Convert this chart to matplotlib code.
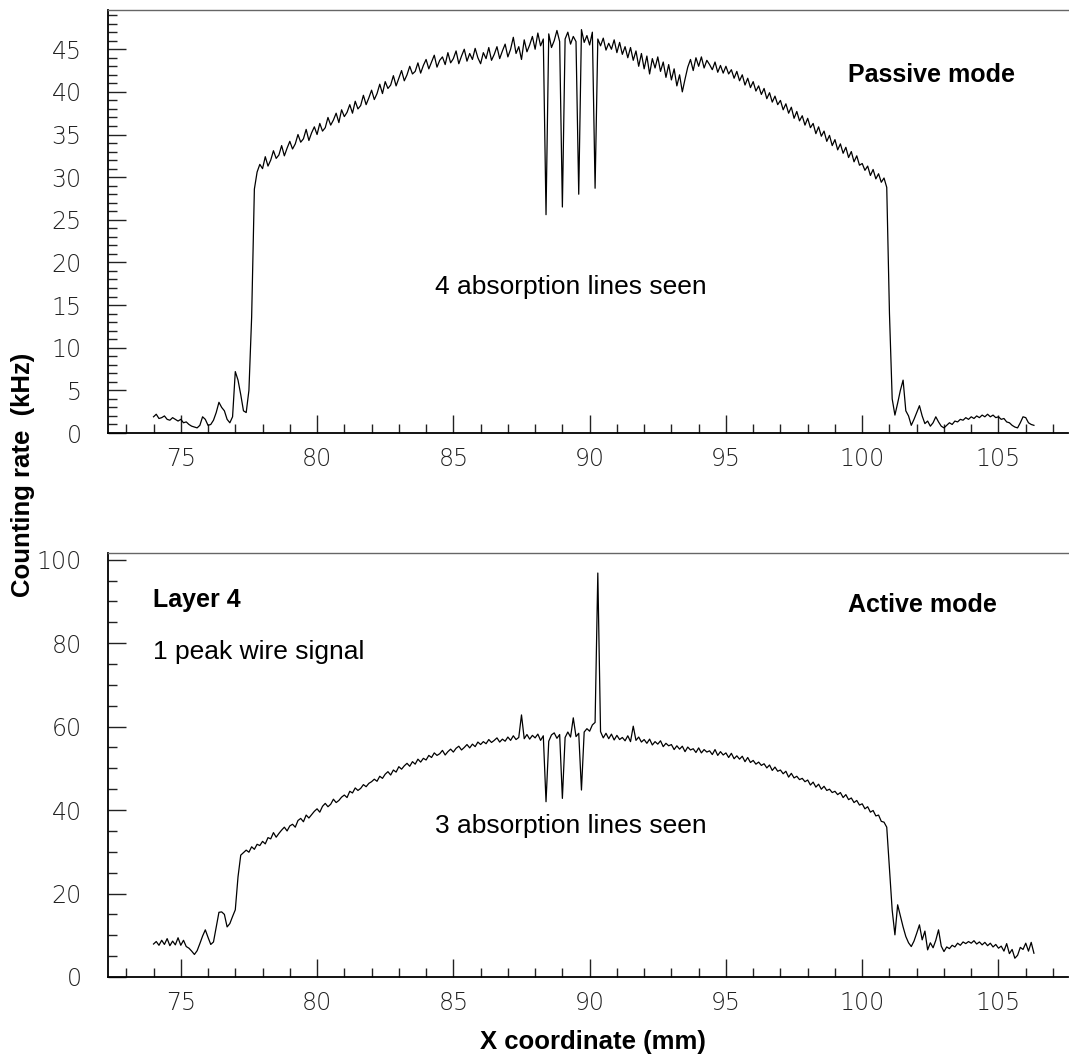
"""
Wire chamber scan: counting rate vs X coordinate, passive and active mode.
Recreated as a two-panel plot in the old PAW / ROOT look.
"""

import numpy as np
import matplotlib
matplotlib.use("Agg")
import matplotlib.pyplot as plt
import matplotlib.ticker as mticker
from matplotlib.font_manager import FontProperties

# ── Data (kHz, one value per 0.1 mm bin, starting at 74.0 mm) ───────────────
X_START = 74.0
X_STEP = 0.1

passive_rate = [
    1.9, 2.2, 1.7, 1.8, 2.0, 1.6, 1.5, 1.8, 1.6, 1.4,            # 74
    1.6, 1.2, 1.3, 1.0, 0.8, 0.7, 0.6, 0.9, 1.9, 1.6,            # 75
    0.9, 1.0, 1.5, 2.4, 3.6, 3.0, 2.6, 1.6, 1.2, 1.9,            # 76
    7.2, 6.2, 4.5, 2.6, 2.4, 5.0, 13.6, 28.6, 30.6, 31.5,        # 77
    31.0, 32.4, 31.3, 32.0, 33.1, 32.2, 32.6, 33.7, 32.5, 33.4,  # 78
    34.2, 33.3, 33.9, 35.0, 34.1, 34.5, 35.6, 34.3, 35.2, 35.9,  # 79
    35.0, 36.3, 35.4, 35.8, 37.0, 36.1, 36.7, 37.5, 36.4, 37.9,  # 80
    37.1, 37.6, 38.5, 37.5, 38.9, 38.0, 38.4, 39.6, 38.5, 39.3,  # 81
    40.2, 39.1, 39.8, 40.9, 39.8, 41.2, 40.4, 40.8, 41.9, 40.7,  # 82
    41.6, 42.5, 41.3, 42.0, 43.0, 42.1, 42.4, 43.4, 42.2, 43.1,  # 83
    43.8, 42.7, 43.5, 44.3, 42.9, 43.7, 44.1, 43.2, 44.6, 43.4,  # 84
    43.9, 44.8, 43.3, 44.2, 45.0, 43.6, 44.5, 43.8, 45.1, 44.0,  # 85
    43.3, 44.6, 43.9, 45.2, 43.7, 44.4, 45.3, 43.9, 44.8, 45.6,  # 86
    44.1, 45.0, 46.4, 44.5, 45.3, 43.8, 46.1, 44.7, 45.5, 46.5,  # 87
    45.0, 46.9, 45.4, 46.2, 25.6, 46.8, 45.2, 46.0, 47.2, 45.9,  # 88
    26.5, 46.2, 47.0, 45.6, 46.5, 45.9, 28.0, 47.3, 45.8, 46.6,  # 89
    45.5, 47.0, 28.7, 46.2, 45.4, 46.3, 44.9, 45.7, 45.0, 46.1,  # 90
    44.6, 45.8, 44.4, 45.3, 44.0, 45.2, 43.7, 44.8, 43.0, 44.5,  # 91
    42.7, 44.2, 42.1, 43.9, 42.8, 44.1, 42.4, 43.5, 41.7, 43.2,  # 92
    41.4, 42.7, 40.7, 42.0, 40.0, 41.5, 42.9, 43.8, 42.5, 44.0,  # 93
    43.0, 44.1, 42.8, 43.7, 43.2, 42.6, 43.5, 42.3, 43.1, 42.2,  # 94
    43.0, 42.1, 42.6, 41.6, 42.4, 41.3, 42.0, 40.8, 41.6, 40.5,  # 95
    41.2, 40.1, 40.7, 39.7, 40.4, 39.2, 39.9, 38.8, 39.5, 38.5,  # 96
    39.0, 37.9, 38.6, 37.5, 38.2, 36.9, 37.7, 36.6, 37.2, 36.1,  # 97
    36.9, 35.8, 36.3, 35.1, 35.9, 34.8, 35.4, 34.2, 34.9, 33.7,  # 98
    34.4, 33.2, 33.9, 32.8, 33.5, 32.3, 33.0, 31.8, 32.5, 31.4,  # 99
    31.6, 30.8, 31.3, 30.2, 30.9, 29.8, 30.4, 29.4, 29.9, 28.8,  # 100
    14.0, 4.0, 2.1, 3.5, 5.0, 6.2, 2.6, 2.0, 0.9, 1.6,           # 101
    2.4, 3.2, 2.0, 1.1, 1.4, 0.8, 1.2, 1.9, 1.3, 0.8,            # 102
    0.6, 0.9, 1.2, 1.0, 1.4, 1.3, 1.6, 1.5, 1.8, 1.6,            # 103
    1.9, 1.7, 2.0, 1.8, 2.1, 1.9, 2.2, 1.9, 2.1, 1.8,            # 104
    1.9, 1.6, 1.7, 1.3, 1.2, 0.9, 0.7, 0.6, 1.2, 1.9,            # 105
    1.8, 1.2, 1.0, 0.9,                                          # 106
]

active_rate = [
    7.9, 8.5, 7.6, 8.8, 7.8, 9.2, 7.5, 8.6, 7.7, 9.4,            # 74
    7.6, 8.8, 7.3, 6.9, 6.2, 5.4, 6.3, 8.0, 9.8, 11.3,           # 75
    9.5, 7.8, 8.4, 12.0, 15.5, 15.6, 15.0, 12.0, 12.8, 14.5,     # 76
    16.1, 24.0, 29.2, 29.8, 30.4, 29.9, 31.2, 30.6, 31.8, 31.5,  # 77
    32.5, 31.9, 33.4, 33.1, 34.6, 33.5, 34.4, 35.2, 35.9, 35.0,  # 78
    36.2, 36.6, 35.9, 37.5, 38.0, 37.2, 38.8, 38.1, 38.9, 39.7,  # 79
    40.3, 39.5, 40.9, 41.6, 40.8, 41.4, 42.6, 41.8, 42.3, 43.1,  # 80
    43.6, 43.0, 44.5, 44.1, 45.3, 44.7, 45.2, 46.1, 45.6, 46.4,  # 81
    46.8, 47.4, 46.9, 48.1, 47.6, 48.6, 49.2, 48.4, 49.6, 49.1,  # 82
    50.4, 49.8, 50.6, 51.2, 50.5, 51.6, 51.0, 52.2, 51.5, 52.4,  # 83
    52.0, 53.1, 52.6, 53.7, 53.1, 53.5, 54.3, 53.2, 54.0, 54.6,  # 84
    53.9, 54.8, 55.3, 54.4, 55.0, 55.7, 54.9, 55.8, 55.2, 56.3,  # 85
    55.7, 56.4, 55.9, 56.9, 56.2, 56.7, 57.3, 56.3, 57.0, 56.5,  # 86
    57.5, 56.7, 57.8, 56.9, 57.4, 62.8, 57.1, 58.1, 57.0, 57.9,  # 87
    57.3, 58.2, 56.7, 57.8, 42.0, 56.5, 58.0, 58.5, 57.2, 58.1,  # 88
    42.8, 57.4, 58.7, 57.5, 62.1, 57.6, 58.4, 44.8, 58.7, 59.5,  # 89
    58.9, 60.4, 61.0, 96.8, 58.8, 57.3, 58.4, 57.1, 58.2, 56.8,  # 90
    57.9, 56.9, 57.4, 56.6, 57.8, 56.4, 60.1, 56.7, 57.5, 56.3,  # 91
    56.9, 56.0, 57.0, 55.6, 56.4, 55.8, 56.6, 55.2, 56.0, 55.4,  # 92
    55.7, 54.5, 55.4, 54.6, 55.3, 54.0, 55.1, 54.4, 54.7, 53.8,  # 93
    54.9, 53.7, 54.5, 53.9, 54.2, 53.3, 54.5, 53.1, 54.0, 53.2,  # 94
    53.7, 52.6, 53.6, 52.3, 53.0, 52.2, 52.9, 51.6, 52.6, 51.4,  # 95
    51.9, 51.0, 51.5, 50.7, 51.1, 50.1, 50.8, 49.5, 50.3, 49.3,  # 96
    49.6, 48.7, 49.3, 47.9, 48.8, 47.7, 48.1, 47.3, 47.6, 46.8,  # 97
    47.2, 46.0, 46.7, 45.5, 46.2, 45.0, 45.7, 44.7, 45.0, 44.2,  # 98
    44.5, 43.7, 44.2, 43.0, 43.7, 42.5, 42.9, 41.8, 42.3, 41.2,  # 99
    41.5, 40.3, 40.8, 39.5, 39.9, 38.6, 38.8, 37.3, 37.1, 35.9,  # 100
    26.0, 16.0, 10.1, 17.3, 14.6, 12.0, 9.7, 8.2, 7.3, 8.6,      # 101
    10.5, 12.5, 8.9, 11.0, 6.5, 8.2, 7.0, 8.8, 11.3, 7.4,        # 102
    6.1, 7.2, 6.8, 7.6, 7.2, 8.1, 7.6, 8.4, 8.0, 8.5,            # 103
    8.1, 8.7, 7.9, 8.4, 7.7, 8.3, 7.5, 8.1, 7.2, 7.8,            # 104
    6.9, 7.4, 6.2, 8.0, 5.6, 6.6, 4.5, 5.2, 7.1, 6.6,            # 105
    8.1, 6.2, 8.3, 5.7,                                          # 106
]

x_passive = X_START + X_STEP * np.arange(len(passive_rate))
x_active = X_START + X_STEP * np.arange(len(active_rate))

X_LIM = (72.33, 107.55)
PASSIVE_YLIM = (0, 49.6)
ACTIVE_YLIM = (0, 101.6)

# ── Figure ───────────────────────────────────────────────────────────────────
W, H = 1069, 1059
fig = plt.figure(figsize=(W / 100, H / 100), dpi=100)

TICK_FONT = dict(family="DejaVu Sans", weight="light", size=17)
LABEL_FONT = "Liberation Sans"


def px(x, y):
    """pixel position -> figure fraction"""
    return x / W, 1 - y / H


def style_axes(ax, ymaj, ymin):
    ax.set_xlim(*X_LIM)
    ax.xaxis.set_major_locator(mticker.MultipleLocator(5))
    ax.xaxis.set_minor_locator(mticker.MultipleLocator(1))
    ax.yaxis.set_major_locator(mticker.MultipleLocator(ymaj))
    ax.yaxis.set_minor_locator(mticker.MultipleLocator(ymin))
    ax.tick_params(which="major", direction="in", length=13, width=1.0,
                   color="#222222")
    ax.tick_params(which="minor", direction="in", length=6.5, width=1.0,
                   color="#222222")
    ax.tick_params(axis="x", which="major", pad=10)
    ax.tick_params(axis="y", which="major", pad=19)
    for lab in ax.get_xticklabels() + ax.get_yticklabels():
        lab.set_fontproperties(FontProperties(**TICK_FONT))
        lab.set_color("#222222")
    ax.spines["right"].set_visible(False)
    ax.spines["top"].set_color("#666666")
    ax.spines["top"].set_linewidth(1.0)
    ax.spines["left"].set_linewidth(1.3)
    ax.spines["bottom"].set_linewidth(1.3)


ax1 = fig.add_axes([108 / W, 1 - 433 / H, 960 / W, 423 / H])
ax1.plot(x_passive, passive_rate, color="black", linewidth=0.9)
ax1.set_ylim(*PASSIVE_YLIM)
style_axes(ax1, 5, 1)

ax2 = fig.add_axes([108 / W, 1 - 977 / H, 960 / W, 424 / H])
ax2.plot(x_active, active_rate, color="black", linewidth=0.9)
ax2.set_ylim(*ACTIVE_YLIM)
style_axes(ax2, 20, 5)

# ── Annotations ──────────────────────────────────────────────────────────────
fig.text(*px(848, 75), "Passive mode", fontsize=18, fontweight="bold",
         family=LABEL_FONT, ha="left", va="center")
fig.text(*px(571, 287), "4 absorption lines seen", fontsize=19,
         family=LABEL_FONT, ha="center", va="center")

fig.text(*px(153, 600), "Layer 4", fontsize=18, fontweight="bold",
         family=LABEL_FONT, ha="left", va="center")
fig.text(*px(153, 652), "1 peak wire signal", fontsize=19,
         family=LABEL_FONT, ha="left", va="center")
fig.text(*px(848, 605), "Active mode", fontsize=18, fontweight="bold",
         family=LABEL_FONT, ha="left", va="center")
fig.text(*px(571, 826), "3 absorption lines seen", fontsize=19,
         family=LABEL_FONT, ha="center", va="center")

fig.text(*px(23, 475), "Counting rate  (kHz)", fontsize=18.5, fontweight="bold",
         family=LABEL_FONT, rotation=90, ha="center", va="center")
fig.text(*px(593, 1042), "X coordinate (mm)", fontsize=18.5, fontweight="bold",
         family=LABEL_FONT, ha="center", va="center")

fig.savefig("out.png", dpi=100)
